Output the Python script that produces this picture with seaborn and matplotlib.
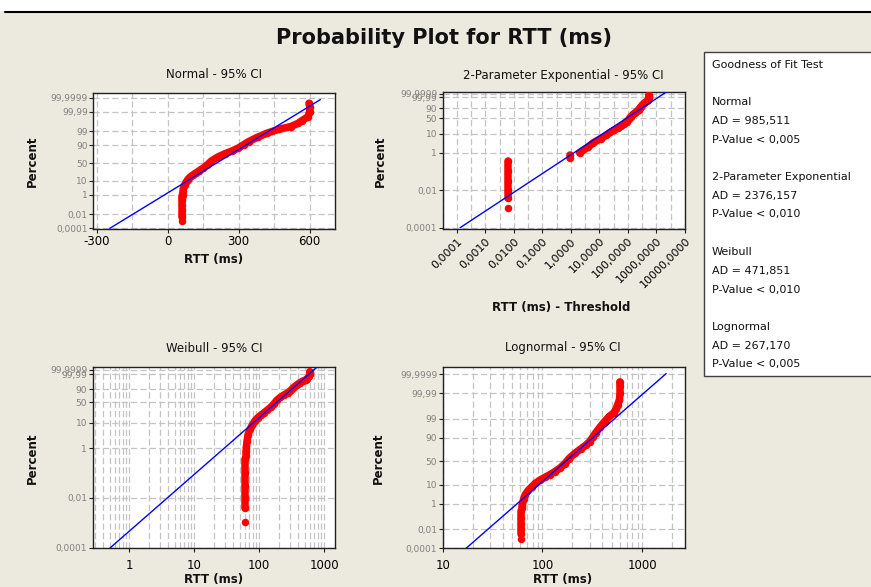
import numpy as np
import pandas as pd
import matplotlib
matplotlib.use("Agg")
import matplotlib.pyplot as plt
from matplotlib.patches import Rectangle
from matplotlib.lines import Line2D
from matplotlib.ticker import NullFormatter
import matplotlib.colors as mcolors
import seaborn as sns
from statistics import NormalDist

# ---------------- data ----------------
# empirical percentiles of RTT (ms); segment ids mark gaps visible in the exponential panel
percent = [0.0011, 0.0038, 0.01, 0.03, 0.1, 0.35,
           0.5, 0.75,
           1.0, 2.0, 3.3, 5.5, 8, 11.5, 15, 19, 23, 28.5, 36, 45, 56, 67, 75, 81,
           86, 91, 94, 97, 98.5, 99.3, 99.6, 99.8, 99.9, 99.96, 99.99, 99.998, 99.9993]
rtt_ms = [61, 61, 61, 61, 61, 61,
          61.9, 61.9,
          63, 65, 67, 72, 78, 85, 94, 106, 118, 133, 151, 168, 185, 212, 242, 272,
          298, 322, 342, 380, 420, 470, 520, 550, 568, 592, 600, 600, 597]
segment = [0, 1, 1, 1, 1, 1,
           2, 2,
           3, 3, 3, 3, 3, 3, 3, 3, 3, 3, 3, 3, 3, 3, 3, 3,
           3, 3, 3, 3, 3, 3, 3, 3, 3, 3, 3, 3, 3]

threshold = 60.994          # 2-parameter exponential threshold

# fitted distribution parameters
normal_mu, normal_sigma = 207.0, 95.0
lognorm_mu10, lognorm_sigma10 = 2.234, 0.21
weibull_shape, weibull_scale = 2.28, 218.0
expo_scale = 129.0

fit_pct_normal = [0.0001, 99.9998]
fit_pct_lognorm = [0.0001, 99.99992]
fit_pct_sev = [0.0001, 99.9999999]

prob_ticks_norm = [0.0001, 0.01, 1, 10, 50, 90, 99, 99.99, 99.9999]
prob_labels_norm = ["0,0001", "0,01", "1", "10", "50", "90", "99", "99,99", "99,9999"]
prob_ticks_sev = [0.0001, 0.01, 1, 10, 50, 90, 99.99, 99.9999]
prob_labels_sev = ["0,0001", "0,01", "1", "10", "50", "90", "99,99", "99,9999"]

normal_xticks = [-300, 0, 300, 600]
normal_xlabels = ["-300", "0", "300", "600"]
expo_xticks = [0.0001, 0.001, 0.01, 0.1, 1, 10, 100, 1000, 10000]
expo_xlabels = ["0,0001", "0,0010", "0,0100", "0,1000", "1,0000", "10,0000",
                "100,0000", "1000,0000", "10000,0000"]
weibull_xticks = [1, 10, 100, 1000]
lognorm_xticks = [10, 100, 1000]

panel_titles = ["Normal - 95% CI", "2-Parameter Exponential - 95% CI",
                "Weibull - 95% CI", "Lognormal - 95% CI"]

gof_lines = ["Goodness of Fit Test", "",
             "Normal", "AD = 985,511", "P-Value < 0,005", "",
             "2-Parameter Exponential", "AD = 2376,157", "P-Value < 0,010", "",
             "Weibull", "AD = 471,851", "P-Value < 0,010", "",
             "Lognormal", "AD = 267,170", "P-Value < 0,005"]

# ---------------- helpers ----------------
nd = NormalDist()


def zscore(pcts):
    return np.array([nd.inv_cdf(p / 100.0) for p in pcts])


def sev(pcts):
    p = np.asarray(pcts, dtype=float) / 100.0
    return np.log10(-np.log1p(-p))


W, H = 871, 587
BG = "#ECE9DE"


def fx(x):
    return x / W


def fy(y):
    return 1 - y / H


sns.set_theme(style="white")
plt.rcParams["font.family"] = ["DejaVu Sans"]

fig = plt.figure(figsize=(W / 100, H / 100), dpi=100)
fig.patch.set_facecolor(BG)

# window top strip
fig.patches.append(Rectangle((0, fy(10.5)), 1, 10.5 / H, transform=fig.transFigure,
                             facecolor="white", edgecolor="none", zorder=0))
fig.lines.append(Line2D([fx(5), 1], [fy(11.5), fy(11.5)], transform=fig.transFigure,
                        color="black", lw=1.5))

fig.text(fx(444), fy(38), "Probability Plot for RTT (ms)", ha="center", va="center",
         fontsize=15, fontweight="bold", color="#111111")

boxes = [(93.3, 93.3, 335, 229), (442.7, 92.3, 685, 229),
         (92.7, 366.7, 335, 548.3), (442.7, 367.3, 685, 548.3)]
axes = []
for (x0, y0, x1, y1) in boxes:
    ax = fig.add_axes([fx(x0), fy(y1), (x1 - x0) / W, (y1 - y0) / H])
    ax.set_facecolor("white")
    axes.append(ax)

df = pd.DataFrame({"pct": percent, "rtt": rtt_ms, "seg": segment})
df["z"] = zscore(df["pct"])
df["sev"] = sev(df["pct"])
df["rtt_thr"] = df["rtt"] - threshold

grid_kw = dict(color="#C4C4C4", lw=0.9, ls=(0, (5, 2.5)))
RED_LW = 5.4
RED = "#FF0000"
BLUE = "#0000FF"


def red_curve(ax, xcol, ycol):
    sns.lineplot(data=df, x=xcol, y=ycol, units="seg", ax=ax, color=RED,
                 estimator=None, sort=False, legend=False, marker="o",
                 linewidth=RED_LW, markersize=RED_LW, markeredgewidth=0)


def blue_line(ax, x, y):
    sns.lineplot(x=x, y=y, ax=ax, color=BLUE, estimator=None, sort=False,
                 legend=False, linewidth=1.0)


def style_axis(ax, yticks, ylabels):
    ax.set_yticks(yticks)
    ax.set_yticklabels(ylabels)
    ax.tick_params(axis="y", which="major", labelcolor="#808080", labelsize=6.5,
                   length=3, width=0.8, color="#202020", pad=1, direction="out", left=True)
    ax.tick_params(axis="x", which="major", labelcolor="black", labelsize=8.5,
                   length=3, width=0.8, color="#202020", direction="out", bottom=True)
    ax.tick_params(axis="x", which="minor", length=0)
    ax.grid(True, which="major", axis="both", **grid_kw)
    ax.grid(True, which="minor", axis="x", **grid_kw)
    ax.set_axisbelow(True)
    for sp in ax.spines.values():
        sp.set_color("#202020")
        sp.set_linewidth(1.0)
    ax.set_xlabel("")
    ax.set_ylabel("")


# ---- Normal ----
ax = axes[0]
red_curve(ax, "rtt", "z")
zf = zscore(fit_pct_normal)
blue_line(ax, normal_mu + normal_sigma * zf, zf)
ax.set_xlim(-314, 707)
ax.set_ylim(-4.80, 5.07)
ax.set_xticks(normal_xticks)
ax.set_xticklabels(normal_xlabels)
ax.set_xticks([-150, 150, 450], minor=True)
style_axis(ax, zscore(prob_ticks_norm), prob_labels_norm)
ax.tick_params(axis="x", pad=1.5)

# ---- 2-parameter exponential ----
ax = axes[1]
ax.set_xscale("log")
red_curve(ax, "rtt_thr", "sev")
sf = sev(fit_pct_sev)
blue_line(ax, expo_scale * 10 ** sf, sf)
ax.set_xlim(10 ** -4.31, 10 ** 4.0)
ax.set_ylim(-6.07, 1.22)
ax.set_xticks(expo_xticks)
ax.set_xticklabels(expo_xlabels, rotation=45, ha="right", rotation_mode="anchor")
ax.set_xticks([10 ** (k + 0.5) for k in range(-5, 4)], minor=True)
ax.xaxis.set_minor_formatter(NullFormatter())
style_axis(ax, sev(prob_ticks_sev), prob_labels_sev)
ax.tick_params(axis="x", labelsize=8, pad=2)

# ---- Weibull ----
ax = axes[2]
ax.set_xscale("log")
red_curve(ax, "rtt", "sev")
sf = sev(fit_pct_sev)
blue_line(ax, weibull_scale * 10 ** (sf / weibull_shape), sf)
ax.set_xlim(10 ** -0.563, 10 ** 3.165)
ax.set_ylim(-6.02, 1.27)
ax.set_xticks(weibull_xticks)
ax.set_xticklabels([str(v) for v in weibull_xticks])
ax.set_xticks([m * 10.0 ** k for k in range(-1, 4) for m in range(2, 10)
               if 10 ** -0.563 < m * 10.0 ** k < 10 ** 3.165], minor=True)
ax.xaxis.set_minor_formatter(NullFormatter())
style_axis(ax, sev(prob_ticks_sev), prob_labels_sev)
ax.tick_params(axis="x", pad=5)

# ---- Lognormal ----
ax = axes[3]
ax.set_xscale("log")
red_curve(ax, "rtt", "z")
zf = zscore(fit_pct_lognorm)
blue_line(ax, 10 ** (lognorm_mu10 + lognorm_sigma10 * zf), zf)
ax.set_xlim(10, 10 ** 3.43)
ax.set_ylim(-4.76, 5.14)
ax.set_xticks(lognorm_xticks)
ax.set_xticklabels([str(v) for v in lognorm_xticks])
ax.set_xticks([m * 10.0 ** k for k in range(1, 4) for m in range(2, 10)
               if 10 < m * 10.0 ** k < 10 ** 3.43], minor=True)
ax.xaxis.set_minor_formatter(NullFormatter())
style_axis(ax, zscore(prob_ticks_norm), prob_labels_norm)
ax.tick_params(axis="x", pad=5)

# ---- consistent styling of the seaborn-drawn lines ----
for ax in axes:
    for ln in ax.get_lines():
        c = mcolors.to_hex(ln.get_color()).lower()
        if c == "#ff0000":
            ln.set_solid_capstyle("round")
            ln.set_solid_joinstyle("round")
            ln.set_zorder(3)
        elif c == "#0000ff":
            ln.set_zorder(5)

# ---- panel titles and axis labels ----
title_pos = [(214, 75), (563, 75), (214, 348), (563, 348)]
for (tx, ty), t in zip(title_pos, panel_titles):
    fig.text(fx(tx), fy(ty), t, ha="center", va="center", fontsize=8.5, color="#111111")

xlab = [(214, 260, "RTT (ms)"), (561, 307, "RTT (ms) - Threshold"),
        (214, 579, "RTT (ms)"), (563, 579, "RTT (ms)")]
for tx, ty, t in xlab:
    fig.text(fx(tx), fy(ty), t, ha="center", va="center", fontsize=8.5,
             fontweight="bold", color="#111111")
ylab = [(32, 161), (380, 161), (32, 458), (378, 458)]
for tx, ty in ylab:
    fig.text(fx(tx), fy(ty), "Percent", ha="center", va="center", fontsize=8.5,
             fontweight="bold", rotation=90, color="#111111")

# ---- goodness of fit box ----
fig.patches.append(Rectangle((fx(704), fy(376)), (880 - 704) / W, (376 - 52) / H,
                             transform=fig.transFigure, facecolor="white",
                             edgecolor="#404040", lw=1.0, zorder=1))
line_y = [65, 83.5, 102, 121, 140, 158.5, 177, 196, 214, 233, 252, 271, 290, 308.5,
          327, 346, 364]
for ly, t in zip(line_y, gof_lines):
    if t:
        fig.text(fx(712), fy(ly), t, ha="left", va="center", fontsize=8,
                 color="#111111", zorder=2)

fig.savefig("out.png", dpi=100, facecolor=fig.get_facecolor())
